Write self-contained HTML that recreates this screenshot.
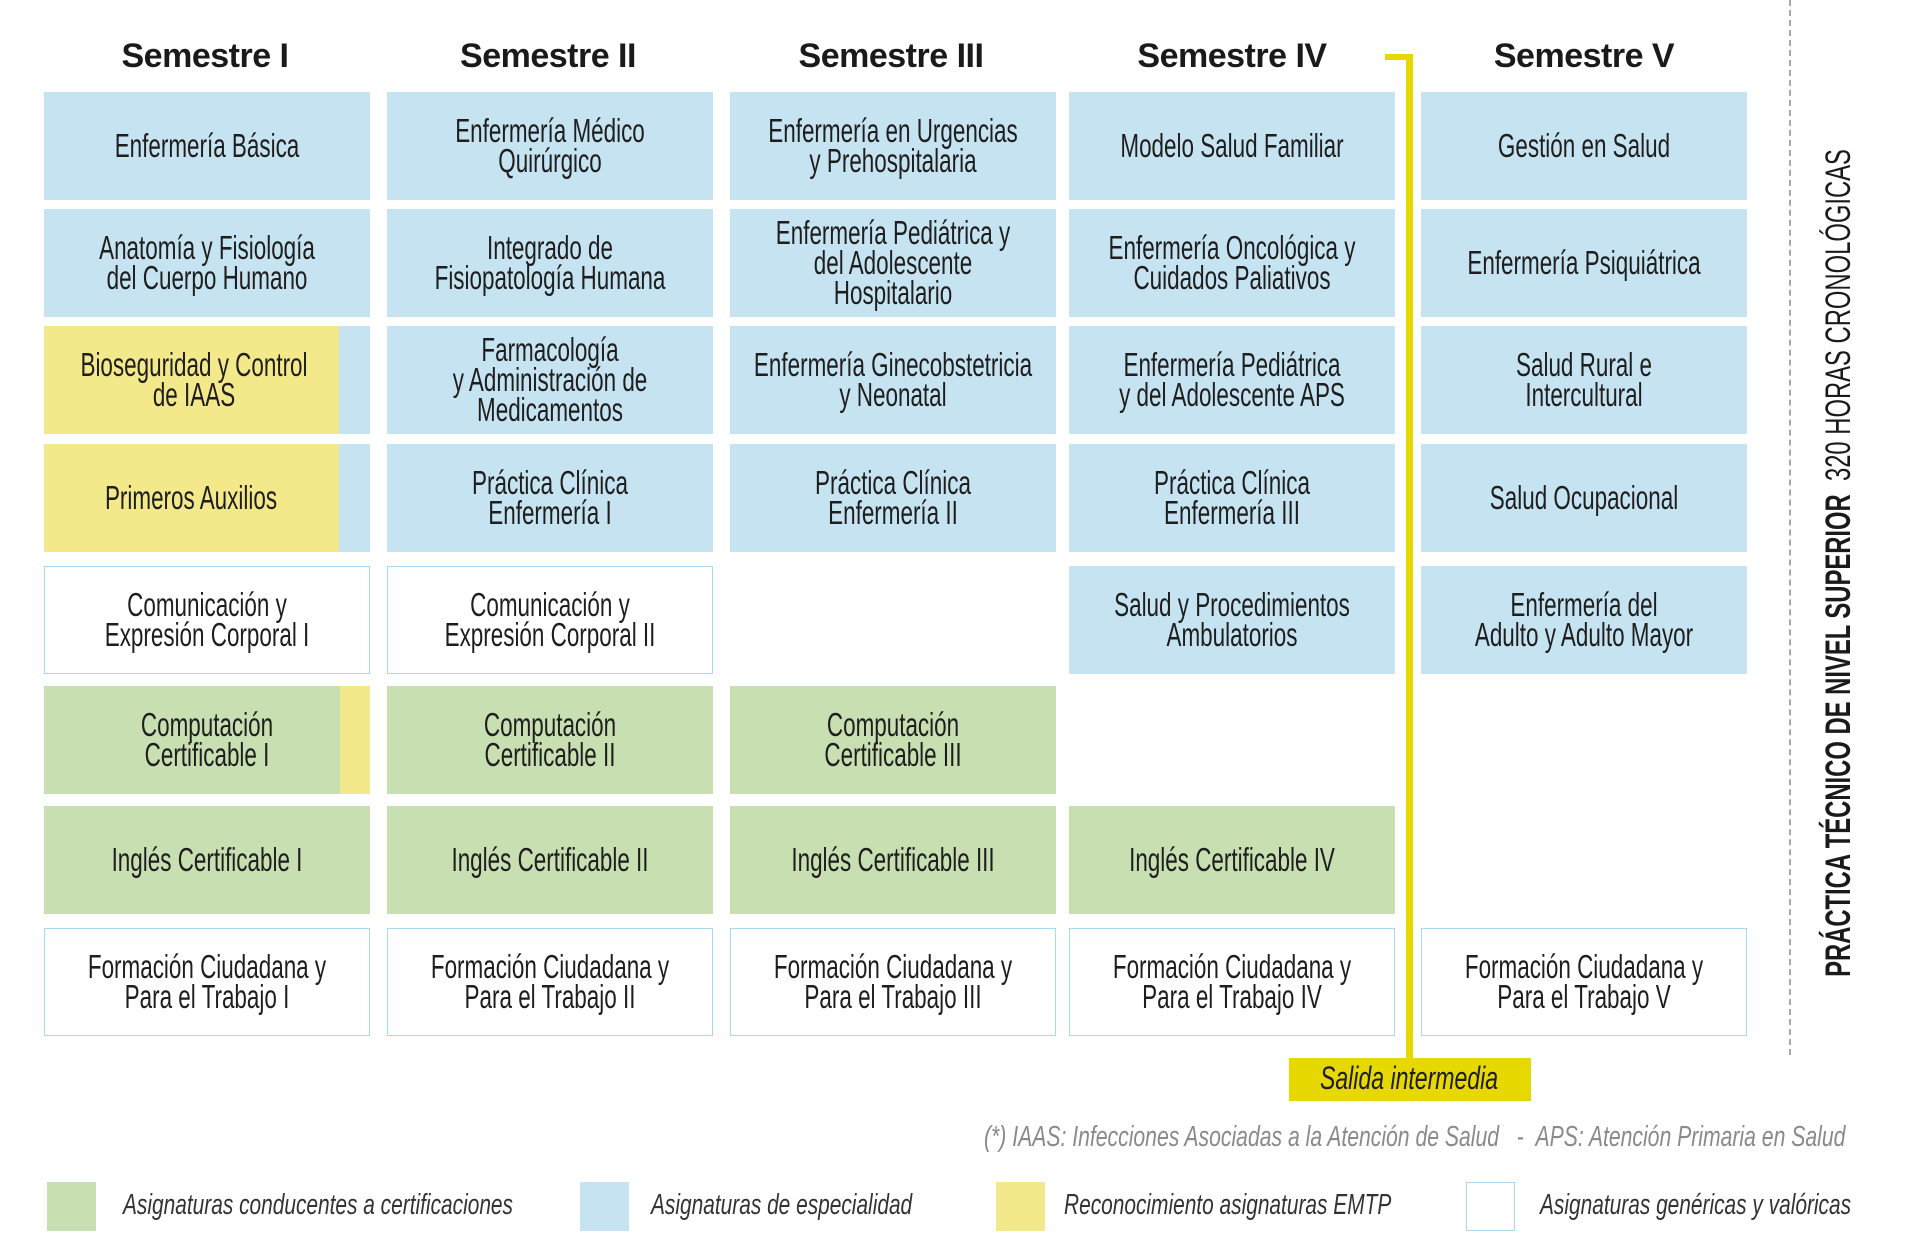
<!DOCTYPE html>
<html><head><meta charset="utf-8">
<style>
html,body{margin:0;padding:0;background:#fff;}
body{width:1920px;height:1246px;position:relative;overflow:hidden;font-family:"Liberation Sans",sans-serif;color:#222;}
.h{position:absolute;top:37px;width:340px;text-align:center;font-weight:bold;font-size:34px;color:#1a1a1a;letter-spacing:-0.5px;}
.c{position:absolute;width:326px;height:108px;box-sizing:border-box;overflow:hidden;}
.b{background:#c6e3f1;}
.g{background:#c7dfb1;}
.y{background:#f4e98a;}
.w{background:#fff;border:1.5px solid #a9d9f1;}
.t{position:absolute;left:50%;top:50%;width:470px;transform:translate(-50%,-50%) scaleX(0.68);text-align:center;font-size:33px;line-height:30px;color:#1e1e1e;}
.s{position:absolute;top:0;right:0;width:30px;height:100%;}
.lt{position:absolute;white-space:nowrap;font-style:italic;font-size:29px;color:#333;transform-origin:left center;transform:scaleX(0.72);}
</style></head><body>

<div class="h" style="left:35px">Semestre I</div>
<div class="h" style="left:378px">Semestre II</div>
<div class="h" style="left:721px">Semestre III</div>
<div class="h" style="left:1062px">Semestre IV</div>
<div class="h" style="left:1414px">Semestre V</div>

<div class="c b" style="left:44px;top:92px"><div class="t">Enfermería Básica</div></div>
<div class="c b" style="left:44px;top:209px"><div class="t">Anatomía y Fisiología<br>del Cuerpo Humano</div></div>
<div class="c b" style="left:44px;top:326px"><div class="y" style="position:absolute;left:0;top:0;width:295px;height:100%"></div><div class="t" style="left:46%">Bioseguridad y Control<br>de IAAS</div></div>
<div class="c b" style="left:44px;top:444px"><div class="y" style="position:absolute;left:0;top:0;width:295px;height:100%"></div><div class="t" style="left:45%">Primeros Auxilios</div></div>
<div class="c w" style="left:44px;top:566px"><div class="t">Comunicación y<br>Expresión Corporal I</div></div>
<div class="c g" style="left:44px;top:686px"><div class="s y"></div><div class="t">Computación<br>Certificable I</div></div>
<div class="c g" style="left:44px;top:806px"><div class="t">Inglés Certificable I</div></div>
<div class="c w" style="left:44px;top:928px"><div class="t">Formación Ciudadana y<br>Para el Trabajo I</div></div>

<div class="c b" style="left:387px;top:92px"><div class="t">Enfermería Médico<br>Quirúrgico</div></div>
<div class="c b" style="left:387px;top:209px"><div class="t">Integrado de<br>Fisiopatología Humana</div></div>
<div class="c b" style="left:387px;top:326px"><div class="t">Farmacología<br>y Administración de<br>Medicamentos</div></div>
<div class="c b" style="left:387px;top:444px"><div class="t">Práctica Clínica<br>Enfermería I</div></div>
<div class="c w" style="left:387px;top:566px"><div class="t">Comunicación y<br>Expresión Corporal II</div></div>
<div class="c g" style="left:387px;top:686px"><div class="t">Computación<br>Certificable II</div></div>
<div class="c g" style="left:387px;top:806px"><div class="t">Inglés Certificable II</div></div>
<div class="c w" style="left:387px;top:928px"><div class="t">Formación Ciudadana y<br>Para el Trabajo II</div></div>

<div class="c b" style="left:730px;top:92px"><div class="t">Enfermería en Urgencias<br>y Prehospitalaria</div></div>
<div class="c b" style="left:730px;top:209px"><div class="t">Enfermería Pediátrica y<br>del Adolescente<br>Hospitalario</div></div>
<div class="c b" style="left:730px;top:326px"><div class="t">Enfermería Ginecobstetricia<br>y Neonatal</div></div>
<div class="c b" style="left:730px;top:444px"><div class="t">Práctica Clínica<br>Enfermería II</div></div>
<div class="c g" style="left:730px;top:686px"><div class="t">Computación<br>Certificable III</div></div>
<div class="c g" style="left:730px;top:806px"><div class="t">Inglés Certificable III</div></div>
<div class="c w" style="left:730px;top:928px"><div class="t">Formación Ciudadana y<br>Para el Trabajo III</div></div>

<div class="c b" style="left:1069px;top:92px"><div class="t">Modelo Salud Familiar</div></div>
<div class="c b" style="left:1069px;top:209px"><div class="t">Enfermería Oncológica y<br>Cuidados Paliativos</div></div>
<div class="c b" style="left:1069px;top:326px"><div class="t">Enfermería Pediátrica<br>y del Adolescente APS</div></div>
<div class="c b" style="left:1069px;top:444px"><div class="t">Práctica Clínica<br>Enfermería III</div></div>
<div class="c b" style="left:1069px;top:566px"><div class="t">Salud y Procedimientos<br>Ambulatorios</div></div>
<div class="c g" style="left:1069px;top:806px"><div class="t">Inglés Certificable IV</div></div>
<div class="c w" style="left:1069px;top:928px"><div class="t">Formación Ciudadana y<br>Para el Trabajo IV</div></div>

<div class="c b" style="left:1421px;top:92px"><div class="t">Gestión en Salud</div></div>
<div class="c b" style="left:1421px;top:209px"><div class="t">Enfermería Psiquiátrica</div></div>
<div class="c b" style="left:1421px;top:326px"><div class="t">Salud Rural e<br>Intercultural</div></div>
<div class="c b" style="left:1421px;top:444px"><div class="t">Salud Ocupacional</div></div>
<div class="c b" style="left:1421px;top:566px"><div class="t">Enfermería del<br>Adulto y Adulto Mayor</div></div>
<div class="c w" style="left:1421px;top:928px"><div class="t">Formación Ciudadana y<br>Para el Trabajo V</div></div>

<div style="position:absolute;left:1385px;top:54px;width:28px;height:6px;background:#e6d800"></div>
<div style="position:absolute;left:1406px;top:54px;width:7px;height:1006px;background:#e6d800"></div>
<div style="position:absolute;left:1289px;top:1058px;width:242px;height:43px;background:#e6d800"></div>
<div class="lt" style="left:1320px;top:1060px;font-size:32px;color:#1e1e1e;transform:scaleX(0.72)">Salida intermedia</div>

<div style="position:absolute;left:1789px;top:0;width:0;height:1055px;border-left:2px dashed #a8a8a8"></div>

<div style="position:absolute;left:1839px;top:563px;width:0;height:0">
 <div style="position:absolute;white-space:nowrap;left:0;top:0;transform:translate(-50%,-50%) rotate(-90deg) scaleX(0.68);font-size:35px;color:#1a1a1a;"><b>PRÁCTICA TÉCNICO DE NIVEL SUPERIOR</b>&nbsp; <span style="font-weight:normal">320 HORAS CRONOLÓGICAS</span></div>
</div>

<div class="lt" style="left:984px;top:1121px;color:#8a8a8a;transform:scaleX(0.73)">(*) IAAS: Infecciones Asociadas a la Atención de Salud &nbsp; - &nbsp;APS: Atención Primaria en Salud</div>

<div style="position:absolute;left:47px;top:1182px;width:49px;height:49px;background:#c7dfb1"></div>
<div class="lt" style="left:123px;top:1189px">Asignaturas conducentes a certificaciones</div>
<div style="position:absolute;left:580px;top:1182px;width:49px;height:49px;background:#c6e3f1"></div>
<div class="lt" style="left:651px;top:1189px">Asignaturas de especialidad</div>
<div style="position:absolute;left:996px;top:1182px;width:49px;height:49px;background:#f4e98a"></div>
<div class="lt" style="left:1064px;top:1189px">Reconocimiento asignaturas EMTP</div>
<div style="position:absolute;left:1466px;top:1182px;width:49px;height:49px;box-sizing:border-box;border:1.5px solid #a9d9f1;background:#fff"></div>
<div class="lt" style="left:1540px;top:1189px">Asignaturas genéricas y valóricas</div>

</body></html>
